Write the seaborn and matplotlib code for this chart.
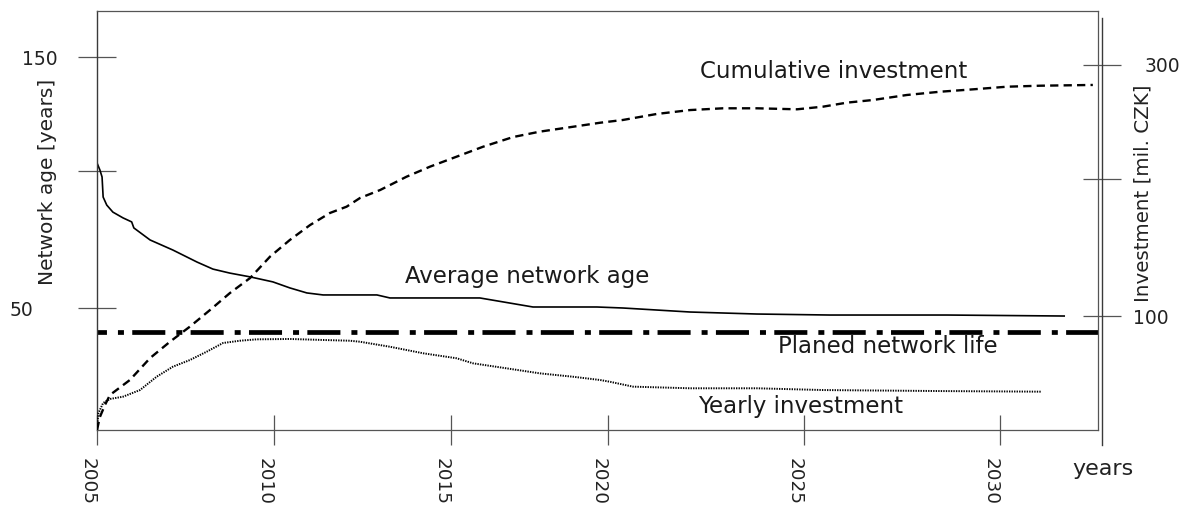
import matplotlib
matplotlib.use("Agg")
import matplotlib.pyplot as plt
import seaborn as sns

# ---------------- data ----------------
age_years = [2005.0, 2005.08, 2005.14, 2005.17, 2005.27, 2005.44, 2005.72, 2005.96, 2006.02,
             2006.47, 2007.1, 2007.77, 2008.21, 2008.68, 2009.24, 2009.87, 2010.34, 2010.81,
             2011.26, 2012.75, 2013.11, 2015.6, 2017.07, 2018.84, 2019.56, 2021.42, 2023.27,
             2025.29, 2028.53, 2031.8]
age_values = [107.8, 105.0, 102.2, 94.2, 91.0, 88.2, 85.9, 84.3, 81.9,
              77.1, 73.1, 68.3, 65.5, 63.9, 62.4, 60.4, 58.0, 56.0,
              55.2, 55.2, 54.0, 54.0, 50.4, 50.4, 50.0, 48.4, 47.6,
              47.2, 47.2, 46.8]

cum_years = [2005.0, 2005.08, 2005.22, 2005.36, 2005.91, 2006.47, 2007.02, 2007.57, 2008.13,
             2008.68, 2009.24, 2009.79, 2010.34, 2010.9, 2011.45, 2011.91, 2012.28, 2012.84,
             2013.57, 2014.22, 2014.96, 2015.69, 2016.52, 2017.26, 2018.18, 2018.93, 2019.56,
             2020.5, 2021.42, 2022.33, 2023.27, 2024.38, 2025.1, 2025.76, 2026.48, 2027.42,
             2028.34, 2029.25, 2030.19, 2031.11, 2032.57]
cum_values = [9.2, 19.5, 29.1, 37.1, 49.0, 66.5, 79.5, 91.5, 104.8,
              118.3, 130.3, 147.3, 160.6, 172.5, 182.1, 187.1, 194.0, 200.4,
              211.0, 219.0, 227.0, 234.9, 242.6, 246.9, 250.8, 254.0, 256.2,
              261.0, 264.1, 265.5, 265.5, 264.7, 266.8, 270.0, 272.1, 276.1,
              278.7, 280.6, 282.7, 283.5, 284.1]

yearly_years = [2005.0, 2005.04, 2005.17, 2005.36, 2005.72, 2006.19, 2006.65, 2007.1, 2007.57,
                2008.04, 2008.49, 2008.96, 2009.42, 2010.34, 2011.26, 2012.0, 2012.28, 2013.11,
                2014.03, 2014.96, 2015.41, 2016.34, 2017.26, 2018.18, 2018.93, 2019.2, 2019.84,
                2021.42, 2023.27, 2025.1, 2028.34, 2031.15]
yearly_values = [11.8, 22.7, 30.7, 33.9, 35.7, 41.0, 51.6, 59.6, 64.9,
                 71.6, 78.5, 80.3, 81.4, 81.7, 80.9, 80.3, 79.5, 75.5,
                 70.3, 66.3, 62.3, 58.3, 54.3, 51.6, 49.0, 47.6, 43.7,
                 42.4, 42.4, 41.0, 40.2, 39.7]

planned_life = 40.5

x_tick_labels = ["2005", "2010", "2015", "2020", "2025", "2030"]
left_tick_labels = ["150", "", "50"]
right_tick_labels = ["300", "", "100"]

# ---------------- layout helpers (pixel geometry of the reference) ----------------
W, H = 1189, 508
PX_PER_YEAR = 36.12


def rect(x0, y0, x1, y1):
    return [x0 / W, (H - y1) / H, (x1 - x0) / W, (y1 - y0) / H]


def px_to_year(px):
    return 2005 + (px - 97) / PX_PER_YEAR


def left_val(py):
    return 50 + (308 - py) / 2.51


def right_val(py):
    return 100 + (316 - py) / 1.255


sns.set_theme(style="white")
plt.rcParams["font.family"] = ["DejaVu Sans"]
plt.rcParams["lines.solid_capstyle"] = "butt"

fig = plt.figure(figsize=(W / 100, H / 100), dpi=100)
fig.patch.set_facecolor("white")

ax = fig.add_axes(rect(97, 11, 1098, 430))
ax2 = fig.add_axes(rect(97, 18, 1102, 445))
ax2.patch.set_visible(False)

ax.set_xlim(2005, px_to_year(1098))
ax2.set_xlim(2005, px_to_year(1102))
ax.set_ylim(left_val(430), left_val(11))
ax2.set_ylim(right_val(445), right_val(18))

# ---------------- lines ----------------
sns.lineplot(x=age_years, y=age_values, ax=ax, color="black", linewidth=1.2)
ax.axhline(planned_life, color="black", linewidth=3.4,
           linestyle=(5.0, (7.0, 2.33, 1.27, 1.76)))
sns.lineplot(x=cum_years, y=cum_values, ax=ax2, color="black", linewidth=1.7,
             linestyle=(0, (3.5, 2.2)))
sns.lineplot(x=yearly_years, y=yearly_values, ax=ax2, color="black", linewidth=1.4,
             linestyle=(0, (0.7, 0.6)))

# ---------------- spines ----------------
for s in ["top", "right", "bottom"]:
    ax.spines[s].set_color("#555555")
    ax.spines[s].set_linewidth(0.9)
ax.spines["left"].set_color("#3a3a3a")
ax.spines["left"].set_linewidth(1.0)
for s in ["left", "top", "bottom"]:
    ax2.spines[s].set_visible(False)
ax2.spines["right"].set_visible(True)
ax2.spines["right"].set_color("#3a3a3a")
ax2.spines["right"].set_linewidth(1.0)

# ---------------- ticks ----------------
ax.set_xticks([px_to_year(p) for p in [97, 274, 451, 608, 804, 1000]],
              labels=x_tick_labels, rotation=-90, ha="right", va="top")
ax.tick_params(axis="x", direction="inout", length=21.6, width=0.9, color="#555555",
               labelsize=13.2, labelcolor="#222222", pad=9.5, bottom=True)

ax.set_yticks([left_val(p) for p in [57, 171, 308]], labels=left_tick_labels)
ax.tick_params(axis="y", direction="inout", length=28, width=0.9, color="#555555",
               labelsize=13.5, labelcolor="#222222", left=True)
ytk = ax.yaxis.get_major_ticks()
ytk[0].set_pad(14.1)
ytk[2].set_pad(32.0)

ax2.yaxis.tick_right()
ax2.set_yticks([right_val(p) for p in [65, 179, 316]], labels=right_tick_labels)
ax2.tick_params(axis="y", direction="inout", length=27.4, width=0.9, color="#555555",
                labelsize=13.5, labelcolor="#222222", right=True, left=False)
ax2.tick_params(axis="x", bottom=False, labelbottom=False, top=False, labeltop=False)
rtk = ax2.yaxis.get_major_ticks()
rtk[0].set_pad(17.3)
rtk[2].set_pad(8.6)

# ---------------- axis labels ----------------
ax.set_xlabel("years", fontsize=16, color="#222222")
ax.xaxis.set_label_coords((1102.5 - 97) / 1001, (430 - 475) / 419)
ax.xaxis.label.set_va("baseline")

ax.set_ylabel("Network age [years]", fontsize=14.5, color="#222222")
ax.yaxis.set_label_coords((48 - 97) / 1001, (430 - 182) / 419)
ax.yaxis.label.set_va("center")

ax2.yaxis.set_label_position("right")
ax2.set_ylabel("Investment [mil. CZK]", fontsize=14.3, color="#222222")
ax2.yaxis.set_label_coords((1143 - 97) / 1005, (445 - 193) / 427)
ax2.yaxis.label.set_va("center")

# ---------------- curve annotations ----------------
ann = dict(transform=ax.transAxes, ha="left", va="baseline", fontsize=16.5, color="#1a1a1a")
ax.text((700 - 97) / 1001, (430 - 78) / 419, "Cumulative investment", **ann)
ax.text((405 - 97) / 1001, (430 - 283) / 419, "Average network age", **ann)
ax.text((778 - 97) / 1001, (430 - 353) / 419, "Planed network life", **ann)
ax.text((698 - 97) / 1001, (430 - 413) / 419, "Yearly investment", **ann)

ax.grid(False)
ax2.grid(False)

fig.savefig("out.png", dpi=100, facecolor="white")
